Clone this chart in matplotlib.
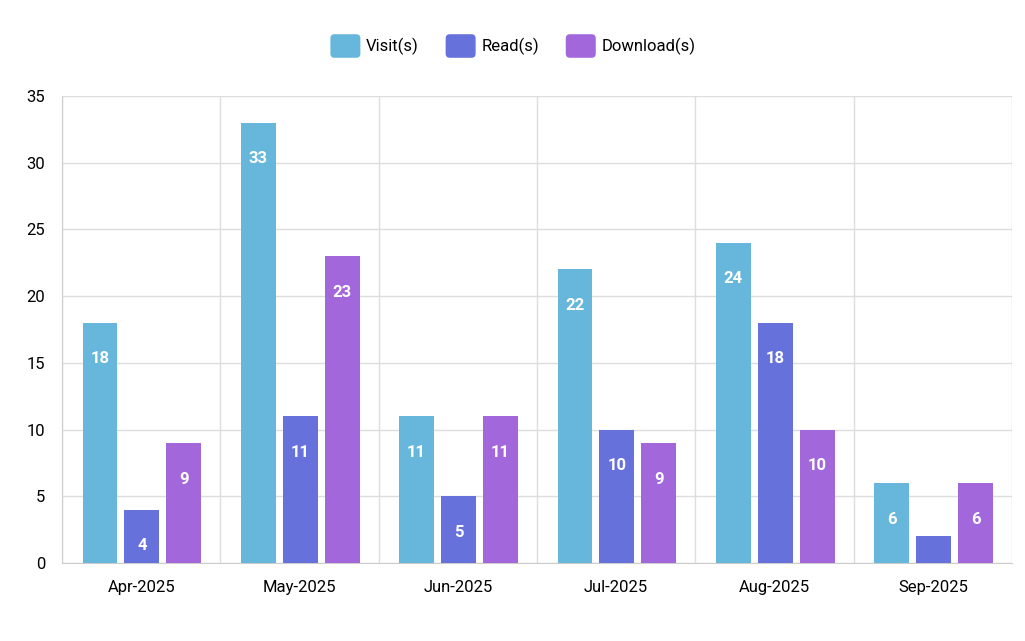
import matplotlib.pyplot as plt
import numpy as np
from matplotlib.patches import FancyBboxPatch, Patch
from matplotlib.legend_handler import HandlerPatch

plt.rcParams['font.family'] = ['Roboto', 'DejaVu Sans']

months = ['Apr-2025', 'May-2025', 'Jun-2025', 'Jul-2025', 'Aug-2025', 'Sep-2025']
visits = [18, 33, 11, 22, 24, 6]
reads = [4, 11, 5, 10, 18, 2]
downloads = [9, 23, 11, 9, 10, 6]
series_names = ['Visit(s)', 'Read(s)', 'Download(s)']
colors = ['#67b7dc', '#6771dc', '#a367dc']


class RoundSquare(HandlerPatch):
    def create_artists(self, legend, orig_handle, xdescent, ydescent,
                       width, height, fontsize, trans):
        p = FancyBboxPatch((-xdescent, -ydescent), width, height,
                           boxstyle="round,pad=0,rounding_size=3",
                           facecolor=orig_handle.get_facecolor(),
                           edgecolor='none', transform=trans)
        return [p]


fig = plt.figure(figsize=(10.25, 6.41), dpi=100)
ax = fig.add_axes([62 / 1025, 78 / 641, 950 / 1025, 467 / 641])

x = np.arange(len(months))
bw = 0.221
step = 0.265
for i, (vals, c) in enumerate(zip([visits, reads, downloads], colors)):
    pos = x + (i - 1) * step + 0.005
    bars = ax.bar(pos, vals, width=bw, color=c, zorder=3)
    for b, v in zip(bars, vals):
        # amCharts hides labels that don't fit in short bars
        if v >= 4:
            ax.annotate(str(v), (b.get_x() + b.get_width() / 2, v),
                        xytext=(0, -26), textcoords='offset points',
                        ha='center', va='center', color='white',
                        fontsize=12, fontweight='bold', zorder=4)

ax.set_xlim(-0.5, len(months) - 0.5)
ax.set_ylim(0, 35)
ax.set_yticks(range(0, 36, 5))
ax.set_xticks(x)
ax.set_xticklabels(months)
ax.set_xticks(np.arange(-0.5, len(months)), minor=True)
ax.tick_params(axis='both', which='both', length=0, labelsize=12, colors='black')
ax.tick_params(axis='x', pad=12)
ax.tick_params(axis='y', pad=12)
ax.grid(True, axis='y', color='#dddddd', linewidth=1, zorder=0)
ax.grid(True, axis='x', which='minor', color='#dddddd', linewidth=1, zorder=0)
for side in ['top', 'right']:
    ax.spines[side].set_visible(False)
ax.spines['left'].set_color('#cccccc')
ax.spines['bottom'].set_color('#cccccc')

handles = [Patch(facecolor=c) for c in colors]
fig.legend(handles, series_names, loc='center', bbox_to_anchor=(513 / 1025, 1 - 46 / 641),
           ncol=3, frameon=False, fontsize=12, handlelength=1.8, handleheight=1.8,
           handletextpad=0.35, columnspacing=1.6,
           handler_map={Patch: RoundSquare()})

plt.savefig('out.png', dpi=100, facecolor='white')
